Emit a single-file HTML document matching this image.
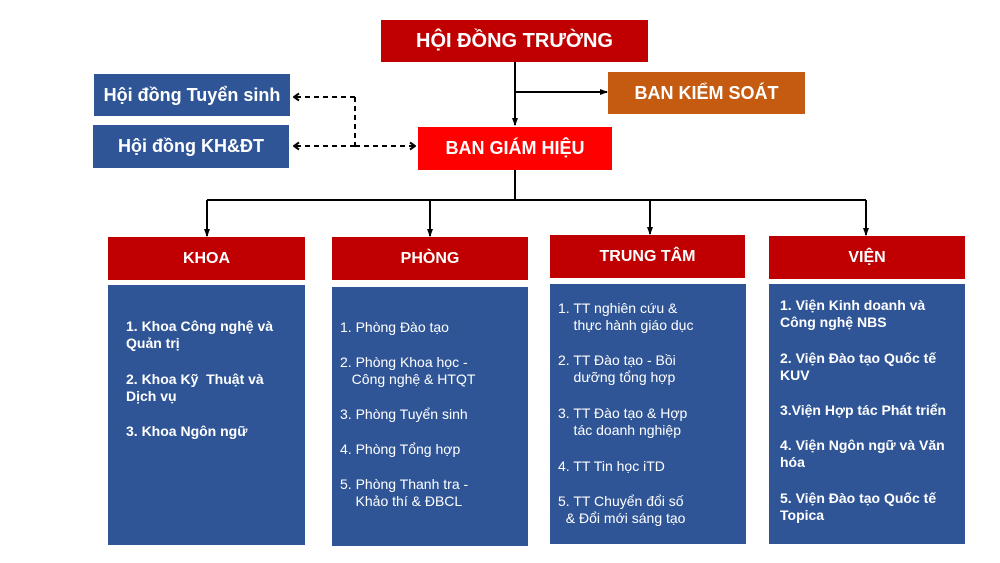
<!DOCTYPE html>
<html><head><meta charset="utf-8"><style>
body{margin:0;width:1000px;height:563px;background:#fff;position:relative;overflow:hidden;font-family:"Liberation Sans",sans-serif}
.b{position:absolute;display:flex;align-items:center;justify-content:center;color:#fff;font-weight:bold;box-sizing:border-box}
.r{background:#c00000}
.c{position:absolute;background:#2f5597;color:#fff;box-sizing:border-box;font-size:14px;line-height:17px}
.c p{margin:0;position:absolute}
.k{font-weight:bold}
</style></head><body>
<svg width="1000" height="563" style="position:absolute;left:0;top:0">
<defs><marker id="a" markerUnits="userSpaceOnUse" markerWidth="8" markerHeight="8" refX="7" refY="4" orient="auto"><path d="M0,1 L8,4 L0,7 z" fill="#000"/></marker>
<marker id="o" markerUnits="userSpaceOnUse" markerWidth="8" markerHeight="10" refX="7" refY="5" orient="auto"><path d="M2,1.5 L7,5 L2,8.5" fill="none" stroke="#000" stroke-width="2"/></marker></defs>
<g stroke="#000" stroke-width="2" fill="none">
<line x1="515" y1="62" x2="515" y2="125" marker-end="url(#a)"/>
<line x1="515" y1="92" x2="607" y2="92" marker-end="url(#a)"/>
<line x1="515" y1="170" x2="515" y2="200"/>
<line x1="207" y1="200" x2="866" y2="200"/>
<line x1="207" y1="200" x2="207" y2="236" marker-end="url(#a)"/>
<line x1="430" y1="200" x2="430" y2="236" marker-end="url(#a)"/>
<line x1="650" y1="200" x2="650" y2="234" marker-end="url(#a)"/>
<line x1="866" y1="200" x2="866" y2="235" marker-end="url(#a)"/>
<g stroke-dasharray="5,4">
<line x1="355" y1="97" x2="294" y2="97" marker-end="url(#o)"/>
<line x1="355" y1="97" x2="355" y2="146"/>
<line x1="355" y1="146" x2="294" y2="146" marker-end="url(#o)"/>
<line x1="355" y1="146" x2="415" y2="146" marker-end="url(#o)"/>
</g></g></svg>
<div class="b r" style="left:381px;top:20px;width:267px;height:42px;font-size:20px">HỘI ĐỒNG TRƯỜNG</div>
<div class="b" style="left:608px;top:72px;width:197px;height:42px;background:#c55a11;font-size:18px">BAN KIỂM SOÁT</div>
<div class="b" style="left:418px;top:127px;width:194px;height:43px;background:#f00;font-size:18px">BAN GIÁM HIỆU</div>
<div class="b" style="left:94px;top:74px;width:196px;height:42px;background:#2f5597;font-size:18px">Hội đồng Tuyển sinh</div>
<div class="b" style="left:93px;top:125px;width:196px;height:43px;background:#2f5597;font-size:18px">Hội đồng KH&amp;ĐT</div>
<div class="b r" style="left:108px;top:237px;width:197px;height:43px;font-size:16px">KHOA</div>
<div class="b r" style="left:332px;top:237px;width:196px;height:43px;font-size:16px">PHÒNG</div>
<div class="b r" style="left:550px;top:235px;width:195px;height:43px;font-size:16px">TRUNG TÂM</div>
<div class="b r" style="left:769px;top:236px;width:196px;height:43px;font-size:16px">VIỆN</div>
<div class="c k" style="left:108px;top:285px;width:197px;height:260px">
<p style="left:18px;top:33px">1. Khoa Công nghệ và<br>Quản trị</p>
<p style="left:18px;top:86px">2. Khoa Kỹ&nbsp; Thuật và<br>Dịch vụ</p>
<p style="left:18px;top:138px">3. Khoa Ngôn ngữ</p></div>
<div class="c" style="left:332px;top:287px;width:196px;height:259px">
<p style="left:8px;top:32px">1. Phòng Đào tạo</p>
<p style="left:8px;top:67px">2. Phòng Khoa học -<br>&nbsp;&nbsp;&nbsp;Công nghệ &amp; HTQT</p>
<p style="left:8px;top:119px">3. Phòng Tuyển sinh</p>
<p style="left:8px;top:154px">4. Phòng Tổng hợp</p>
<p style="left:8px;top:189px">5. Phòng Thanh tra -<br>&nbsp;&nbsp;&nbsp;&nbsp;Khảo thí &amp; ĐBCL</p></div>
<div class="c" style="left:550px;top:284px;width:196px;height:260px">
<p style="left:8px;top:16px">1. TT nghiên cứu &amp;<br>&nbsp;&nbsp;&nbsp;&nbsp;thực hành giáo dục</p>
<p style="left:8px;top:68px">2. TT Đào tạo - Bồi<br>&nbsp;&nbsp;&nbsp;&nbsp;dưỡng tổng hợp</p>
<p style="left:8px;top:121px">3. TT Đào tạo &amp; Hợp<br>&nbsp;&nbsp;&nbsp;&nbsp;tác doanh nghiệp</p>
<p style="left:8px;top:174px">4. TT Tin học iTD</p>
<p style="left:8px;top:209px">5. TT Chuyển đổi số<br>&nbsp;&nbsp;&amp; Đổi mới sáng tạo</p></div>
<div class="c k" style="left:769px;top:284px;width:196px;height:260px">
<p style="left:11px;top:13px">1. Viện Kinh doanh và<br>Công nghệ NBS</p>
<p style="left:11px;top:66px">2. Viện Đào tạo Quốc tế<br>KUV</p>
<p style="left:11px;top:118px">3.Viện Hợp tác Phát triển</p>
<p style="left:11px;top:153px">4. Viện Ngôn ngữ và Văn<br>hóa</p>
<p style="left:11px;top:206px">5. Viện Đào tạo Quốc tế<br>Topica</p></div>
</body></html>
